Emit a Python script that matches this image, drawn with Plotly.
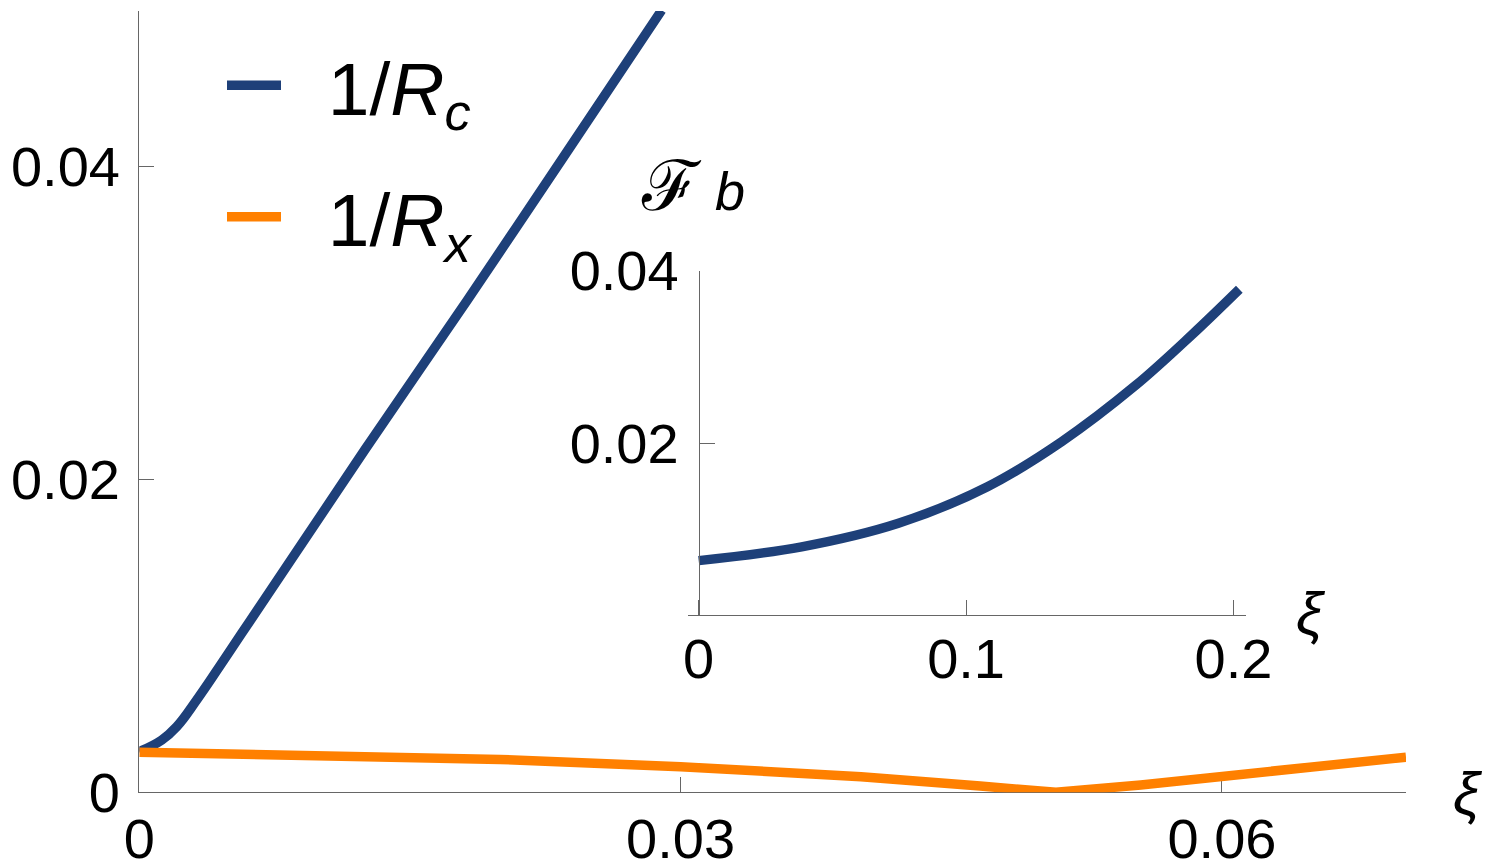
import plotly.graph_objects as go

# ---- data ----
xi_rc = [0.0, 0.00124, 0.00207, 0.00318, 0.00444, 0.00568, 0.00692, 0.0125, 0.0182, 0.0235, 0.02895]
inv_rc = [0.0026, 0.00334, 0.00419, 0.00590, 0.00803, 0.01017, 0.01230, 0.0219, 0.0315, 0.0406, 0.0500]

xi_rx = [0.0, 0.01, 0.02, 0.03, 0.04, 0.0466, 0.0508, 0.0555, 0.06, 0.0702]
inv_rx = [0.00256, 0.00240, 0.00210, 0.00163, 0.00100, 0.00040, 0.0, 0.00047, 0.00100, 0.00225]

xi_fb = [0.0, 0.0385, 0.0747, 0.108, 0.1358, 0.1636, 0.1844, 0.2022]
fb = [0.0064, 0.0080, 0.01073, 0.01497, 0.0202, 0.02676, 0.03255, 0.03785]

main_xticks = [0, 0.03, 0.06]
main_xlabels = ["0", "0.03", "0.06"]
main_yticks = [0, 0.02, 0.04]
main_ylabels = ["0", "0.02", "0.04"]
inset_xticks = [0, 0.1, 0.2]
inset_xlabels = ["0", "0.1", "0.2"]
inset_yticks = [0.02, 0.04]
inset_ylabels = ["0.02", "0.04"]

BLUE = "#1e4079"
ORANGE = "#ff8000"
AXC = "#666666"
FONT = "Liberation Sans, Arial, sans-serif"
W, H = 1490, 868
OFF = 8  # page body margin


def px(x):
    return (x - OFF) / W


def py(y):
    return (H - (y - OFF)) / H


PAD = "\u00a0\u00a0"

fig = go.Figure()
fig.add_trace(go.Scatter(x=xi_rc, y=inv_rc, mode="lines", name=PAD + "1/<i>R</i><sub><i>c</i></sub>",
                         line=dict(color=BLUE, width=9.5, shape="spline", smoothing=1.2),
                         legendgroup="a", xaxis="x", yaxis="y"))
fig.add_trace(go.Scatter(x=xi_rx, y=inv_rx, mode="lines", name=PAD + "1/<i>R</i><sub><i>x</i></sub>",
                         line=dict(color=ORANGE, width=9.5),
                         legendgroup="b", xaxis="x", yaxis="y"))
fig.add_trace(go.Scatter(x=xi_fb, y=fb, mode="lines", showlegend=False,
                         line=dict(color=BLUE, width=9.5, shape="spline", smoothing=1.0),
                         xaxis="x2", yaxis="y2"))

axis_common = dict(showgrid=False, zeroline=False, showline=True, linecolor=AXC, linewidth=1.3,
                   ticks="inside", tickcolor=AXC, tickwidth=1.3, ticklen=15, automargin=False,
                   tickfont=dict(family=FONT, size=56, color="black"), tickmode="array")

fig.update_layout(
    width=W, height=H, margin=dict(l=0, r=0, t=0, b=0, autoexpand=False),
    paper_bgcolor="white", plot_bgcolor="white",
    xaxis=dict(domain=[px(139.3), px(1406)], range=[0, 0.0702], anchor="y",
               tickvals=main_xticks, ticktext=main_xlabels, ticklabelstandoff=-3,
               layer="below traces", **axis_common),
    yaxis=dict(domain=[py(792.3), py(11)], range=[0, 0.04995], anchor="x",
               tickvals=main_yticks, ticktext=main_ylabels, ticklabelstandoff=7,
               layer="below traces", **axis_common),
    xaxis2=dict(domain=[px(688), px(1246)], range=[-0.004, 0.2047], anchor="y2",
                tickvals=inset_xticks, ticktext=inset_xlabels, ticklabelstandoff=-5,
                **axis_common),
    yaxis2=dict(domain=[py(615), py(270.7)], range=[0.0001, 0.04], anchor="free",
                position=px(699),
                tickvals=inset_yticks, ticktext=inset_ylabels, ticklabelstandoff=9,
                **axis_common),
    legend=dict(x=px(222), y=py(30), xanchor="left", yanchor="top",
                font=dict(family=FONT, size=75, color="black"),
                bgcolor="rgba(0,0,0,0)", tracegroupgap=31, itemwidth=54),
    showlegend=True,
    annotations=[
        dict(text="<i>ξ</i>", x=px(1468), y=py(793), xref="paper", yref="paper",
             xanchor="center", yanchor="middle",
             showarrow=False, font=dict(family=FONT, size=60, color="black")),
        dict(text="<i>ξ</i>", x=px(1311), y=py(613), xref="paper", yref="paper",
             xanchor="center", yanchor="middle",
             showarrow=False, font=dict(family=FONT, size=60, color="black")),
        dict(text="<span style='font-size:70px'>ℱ</span> <i>b</i>", x=px(693), y=py(186),
             xref="paper", yref="paper", xanchor="center", yanchor="middle",
             showarrow=False, font=dict(family=FONT, size=54, color="black")),
    ],
)

fig.write_html("out.html")
